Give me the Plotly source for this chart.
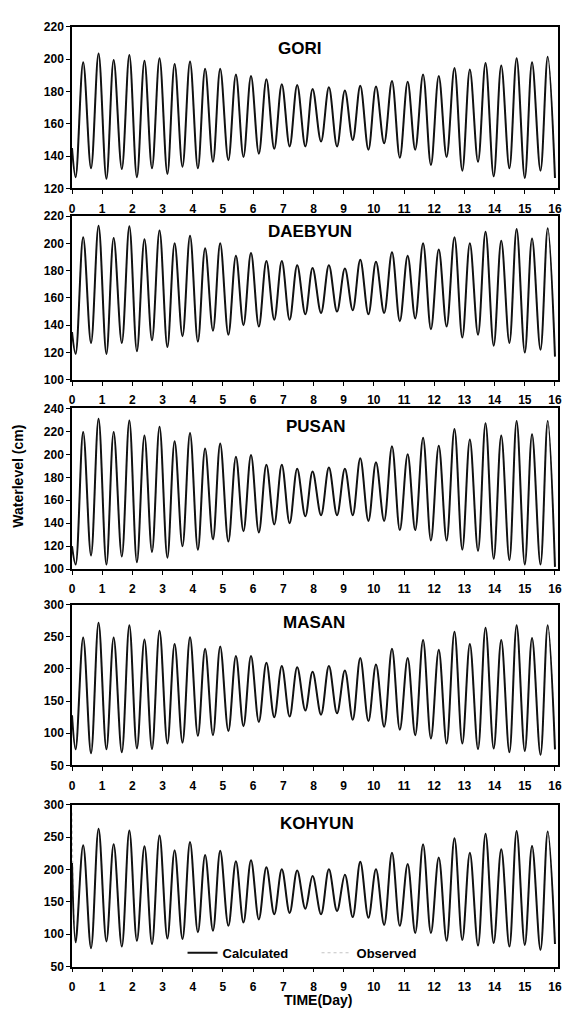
import plotly.graph_objects as go

# ---------------- data ----------------
# times (day) of low and high waters, shared by all stations
days_low = [0.12, 0.63, 1.14, 1.65, 2.15, 2.65, 3.16, 3.66, 4.17, 4.67, 5.18, 5.68,
            6.19, 6.70, 7.21, 7.73, 8.25, 8.78, 9.30, 9.82, 10.34, 10.86, 11.37, 11.89,
            12.41, 12.93, 13.45, 13.97, 14.49, 15.00, 15.52, 16.00]
days_high = [0.37, 0.88, 1.38, 1.90, 2.40, 2.90, 3.40, 3.91, 4.41, 4.91, 5.43, 5.93,
             6.44, 6.95, 7.46, 7.97, 8.51, 9.04, 9.55, 10.07, 10.60, 11.12, 11.63, 12.15,
             12.67, 13.18, 13.70, 14.22, 14.73, 15.24, 15.76]

stations = ["GORI", "DAEBYUN", "PUSAN", "MASAN", "KOHYUN"]

gori_start = 145
gori_high = [198, 203.5, 199.5, 202.5, 199, 200.5, 197, 198.5, 194, 194, 190.5, 189.5,
             187.5, 184.5, 184, 181.5, 182.5, 180.5, 183.5, 183, 186.5, 186, 190.5, 189.5,
             194.5, 193.5, 197.5, 196, 200.5, 198, 201.5]
gori_low = [127, 132.5, 126, 132, 127, 132.5, 129, 133.5, 132.5, 136.5, 137.5, 139.5,
            141.5, 144.5, 146, 146, 149, 146, 150, 144, 148, 139, 144, 134.5,
            139.5, 131, 136.5, 127.5, 132.5, 126.5, 131, 126.5]

daebyun_start = 135
daebyun_high = [204.5, 213, 204, 212.5, 203, 209.5, 200, 205.5, 196.5, 200, 191, 193,
                187, 187, 184, 182, 184, 181.5, 188, 186.5, 193.5, 191, 200, 195.5,
                204.5, 200, 208.5, 202, 210.5, 203.5, 211]
daebyun_low = [119, 127, 119, 127, 121, 129, 124, 132, 128, 136, 133, 140,
               139, 144, 144, 148, 149, 150, 151, 148, 149, 143, 145, 137,
               139, 131, 133, 125, 127, 120, 122, 117]

pusan_start = 120
pusan_high = [219.5, 231, 219.5, 229.5, 216.5, 224, 211.5, 218.5, 205, 209.5, 198, 199.5,
              191, 191, 187.5, 185, 188.5, 187.5, 196.5, 193, 207, 200, 214.5, 207.5,
              222, 213, 227, 216.5, 229, 217.5, 229]
pusan_low = [104, 112, 104, 111, 106, 115, 110, 120, 117, 126, 124, 133,
             132, 139, 140, 146, 147, 147, 147, 142, 142, 134, 134, 125,
             125, 117, 116, 109, 108, 104, 104, 102]

masan_start = 128
masan_high = [249, 272, 249, 268, 246, 259.5, 239, 249.5, 231.5, 235, 220, 220,
              209.5, 204.5, 202.5, 195.5, 204.5, 197.5, 217, 207, 231.5, 217, 245, 230,
              258, 239, 264, 245, 268, 248, 268]
masan_low = [75, 69, 75, 70.5, 76.5, 75.5, 84, 85.5, 96, 97, 103.5, 111,
             117.5, 125, 126, 135.5, 129, 131, 121, 119, 110, 105.5, 97, 92,
             84, 84, 75.5, 76.5, 70.5, 72.5, 66.5, 75]

kohyun_start = 210
kohyun_obs_start = 288
kohyun_high = [237.5, 263, 239, 260.5, 236, 252.5, 230, 242.5, 222.5, 229, 213, 214.5,
               203.5, 200.5, 198.5, 190, 200.5, 192, 212, 200.5, 226, 208.5, 239, 218.5,
               248.5, 226, 255.5, 231.5, 259.5, 236.5, 259]
kohyun_low = [87.5, 78.5, 89, 81, 90, 85, 93.5, 92.5, 103, 105.5, 113, 118,
              123, 131, 133, 139.5, 131, 136, 126.5, 125.5, 114.5, 113, 102, 102,
              90, 91, 82.5, 86.5, 81, 83.5, 76, 85]

y_ranges = [[120, 220], [100, 220], [100, 240], [50, 300], [50, 300]]
y_dticks = [20, 20, 20, 50, 50]
x_ticks = list(range(0, 17))

# ---------------- figure ----------------
W, H = 562, 1018
ML, MR = 72, 2
panel_px = [(20, 184), (212, 378), (407, 570), (606, 769), (809, 973)]
label_px = [(300, 42), (311, 228), (317, 425), (315, 624), (318, 828)]

def series(start, low, high):
    xs, ys = [0.0], [start]
    for i in range(len(low)):
        xs.append(days_low[i]); ys.append(low[i])
        if i < len(high):
            xs.append(days_high[i]); ys.append(high[i])
    return xs, ys

calc_data = [
    (gori_start, gori_low, gori_high),
    (daebyun_start, daebyun_low, daebyun_high),
    (pusan_start, pusan_low, pusan_high),
    (masan_start, masan_low, masan_high),
    (kohyun_start, kohyun_low, kohyun_high),
]
obs_starts = [gori_start, daebyun_start, pusan_start, masan_start, kohyun_obs_start]

FONT = "Liberation Sans, Arial, sans-serif"
fig = go.Figure()
layout = {}
for i, (start, low, high) in enumerate(calc_data):
    k = "" if i == 0 else str(i + 1)
    xo, yo = series(obs_starts[i], low, high)
    xc, yc = series(start, low, high)
    fig.add_trace(go.Scatter(x=xo, y=yo, mode="lines", name="Observed",
                             line=dict(color="#c4c4c4", width=1.2, dash="dot", shape="spline"),
                             xaxis="x" + k, yaxis="y" + k, showlegend=(i == 4),
                             legendrank=2))
    fig.add_trace(go.Scatter(x=xc, y=yc, mode="lines", name="Calculated",
                             line=dict(color="#111111", width=2, shape="spline"),
                             xaxis="x" + k, yaxis="y" + k, showlegend=(i == 4),
                             legendrank=1))
    top, bot = panel_px[i]
    layout["xaxis" + k] = dict(
        domain=[0, 1], anchor="y" + k, range=[0, 16.1],
        tickmode="array", tickvals=x_ticks, ticktext=[str(v) for v in x_ticks],
        ticks="outside", ticklen=4, tickwidth=1.2, tickcolor="black",
        ticklabelstandoff=4, ticklabeloverflow="allow",
        showline=True, linecolor="black", linewidth=1.5, mirror=True,
        showgrid=False, zeroline=False,
        tickfont=dict(family=FONT, size=12, color="black", weight="bold"),
    )
    layout["yaxis" + k] = dict(
        domain=[1 - bot / H, 1 - top / H], anchor="x" + k, range=y_ranges[i],
        dtick=y_dticks[i], tick0=0,
        ticks="outside", ticklen=4, tickwidth=1.2, tickcolor="black",
        showline=True, linecolor="black", linewidth=1.5, mirror=True,
        showgrid=False, zeroline=False,
        tickfont=dict(family=FONT, size=12, color="black", weight="bold"),
    )

pw = W - ML - MR
annotations = []
for i, name in enumerate(stations):
    px, py = label_px[i]
    annotations.append(dict(text=name, x=(px - ML) / pw, y=1 - py / H,
                            xref="paper", yref="paper", showarrow=False,
                            xanchor="center", yanchor="middle",
                            font=dict(family=FONT, size=17, color="black", weight="bold")))
annotations.append(dict(text="Waterlevel (cm)", x=(18 - ML) / pw, y=1 - 476 / H,
                        xref="paper", yref="paper", showarrow=False, textangle=-90,
                        xanchor="center", yanchor="middle",
                        font=dict(family=FONT, size=14, color="black", weight="bold")))
annotations.append(dict(text="TIME(Day)", x=(319 - ML) / pw, y=1 - 1018 / H,
                        xref="paper", yref="paper", showarrow=False,
                        xanchor="center", yanchor="bottom", yshift=1,
                        font=dict(family=FONT, size=14, color="black", weight="bold")))

fig.update_layout(
    width=W, height=H,
    margin=dict(l=ML, r=MR, t=0, b=0),
    paper_bgcolor="white", plot_bgcolor="white",
    annotations=annotations,
    legend=dict(orientation="h", x=(183 - ML) / pw, y=1 - 959 / H,
                xanchor="left", yanchor="middle", bgcolor="rgba(0,0,0,0)",
                font=dict(family=FONT, size=13, color="black", weight="bold"),
                traceorder="normal", entrywidth=89, entrywidthmode="pixels"),
    **layout,
)

fig.write_html("out.html")
